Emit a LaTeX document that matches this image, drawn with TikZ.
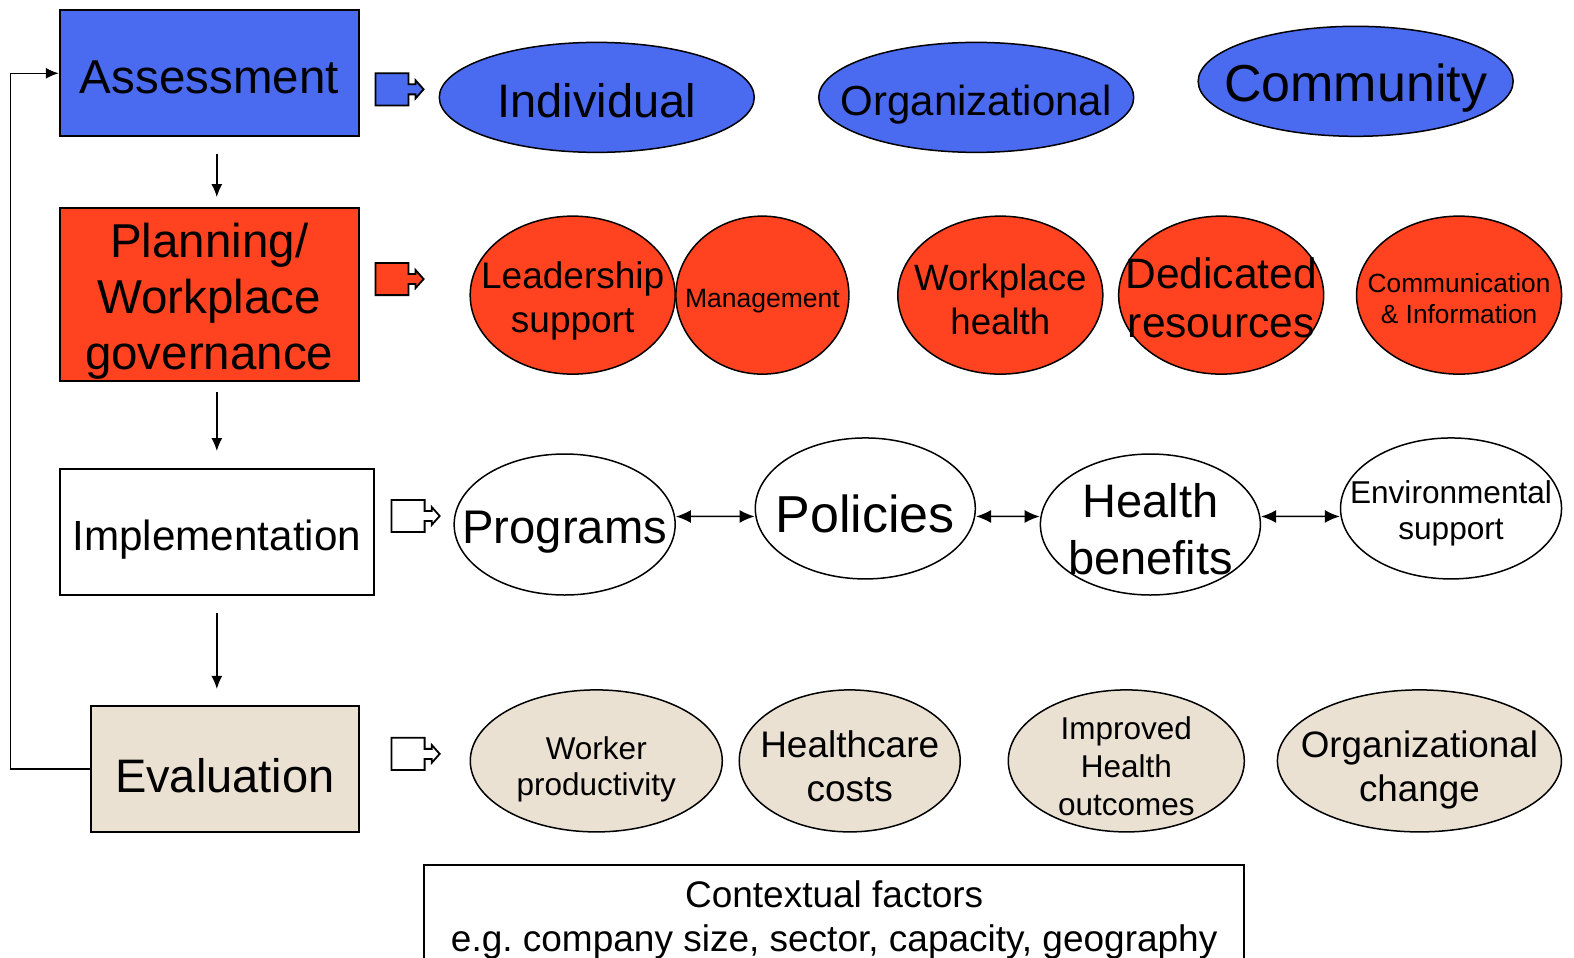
\documentclass[tikz,border=0pt]{standalone}
\usepackage{fontspec}
\setmainfont{Liberation Sans}
\usetikzlibrary{arrows.meta,shapes.geometric}

\definecolor{assessblue}{RGB}{74,106,240}
\definecolor{planred}{RGB}{255,66,32}
\definecolor{evalbeige}{RGB}{234,225,211}

\newcommand{\fs}[2]{\fontsize{#1}{#2}\selectfont}

\tikzset{
  stage/.style={draw, line width=2pt, minimum height=126, inner sep=0pt},
  item/.style={draw, ellipse, line width=1.5pt, inner sep=0pt},
  itemtext/.style={align=center, inner sep=0pt},
  pics/boxarrow/.style={code={
    \draw[line width=1.8pt, fill=#1] (0,-16) -- (33,-16) -- (33,-5) -- (40,-5) -- (40,-9)
      -- (48,0) -- (40,9) -- (40,5) -- (33,5) -- (33,16) -- (0,16) -- cycle;
  }}
}

\begin{document}
\begin{tikzpicture}[x=1.0038pt, y=-1.0038pt,
    down/.style={line width=1.5pt, -{Latex[length=13pt,width=11pt]}},
    both/.style={line width=1.5pt, {Latex[length=15pt,width=13pt]}-{Latex[length=15pt,width=13pt]}}]
  \useasboundingbox (0,0) rectangle (1568,954);

  % stages of the cycle
  \node[stage, fill=assessblue, minimum width=299] (assessment) at (208.5,73) {};
  \node[stage, fill=planred, minimum width=299, minimum height=173] (planning) at (208.5,293.5) {};
  \node[stage, fill=white, minimum width=314] (implementation) at (216,530) {};
  \node[stage, fill=evalbeige, minimum width=268] (evaluation) at (224,766) {};
  \node[itemtext, font={\fs{47.5}{56}}, yshift=-4pt] at (assessment) {Assessment};
  \node[itemtext, font={\fs{47.5}{56}}, yshift=-7pt] at (planning) {Planning/\\Workplace\\governance};
  \node[itemtext, font={\fs{42.2}{50}}, yshift=-8pt] at (implementation) {Implementation};
  \node[itemtext, font={\fs{47}{56}}, yshift=-7pt] at (evaluation) {Evaluation};

  \draw[down, shorten <=17pt, shorten >=10pt] (assessment.south -| implementation) -- (planning.north -| implementation);
  \draw[down, shorten <=10pt, shorten >=17pt] (planning.south -| implementation) -- (implementation.north);
  \draw[down, shorten <=17pt, shorten >=16pt] (implementation.south) -- (evaluation.north -| implementation);
  \draw[down] (evaluation.west) -- ++(-79,0) |- (assessment.west);

  % block arrows
  \pic at (374,89) {boxarrow=assessblue};
  \pic at (374,278) {boxarrow=planred};
  \pic at (390,514) {boxarrow=white};
  \pic at (390,751) {boxarrow=white};

  % assessment levels
  \node[item, fill=assessblue, minimum width=315, minimum height=110] (individual) at (594.5,97) {};
  \node[item, fill=assessblue, minimum width=315, minimum height=110] (organizational) at (972.5,97) {};
  \node[item, fill=assessblue, minimum width=315, minimum height=110] (community) at (1350.5,81) {};
  \node[itemtext, font={\fs{47}{50}}, yshift=-3pt] at (individual) {Individual};
  \node[itemtext, font={\fs{42}{50}}, yshift=-7pt] at (organizational) {Organizational};
  \node[itemtext, font={\fs{52}{56}}, yshift=-7pt] at (community) {Community};

  % governance elements
  \node[item, fill=planred, minimum width=205, minimum height=158] (leadership) at (570.5,294) {};
  \node[item, fill=planred, minimum width=173, minimum height=158] (management) at (759.5,294) {};
  \node[item, fill=planred, minimum width=205, minimum height=158] (workplace) at (996.5,294) {};
  \node[item, fill=planred, minimum width=205, minimum height=158] (resources) at (1216.5,294) {};
  \node[item, fill=planred, minimum width=205, minimum height=158] (communication) at (1453.5,294) {};
  \node[itemtext, font={\fs{37}{44}}, yshift=-6pt] at (leadership) {Leadership\\support};
  \node[itemtext, font={\fs{26.5}{30}}, yshift=-6pt] at (management) {Management};
  \node[itemtext, font={\fs{36.6}{44}}, yshift=-4pt] at (workplace) {Workplace\\health};
  \node[itemtext, font={\fs{42.5}{49}}, yshift=-3pt] at (resources) {Dedicated\\resources};
  \node[itemtext, font={\fs{26.3}{31}}, yshift=-3pt] at (communication) {Communication\\\& Information};

  % implementation elements
  \node[item, fill=white, minimum width=221, minimum height=141] (programs) at (562.5,522.5) {};
  \node[item, fill=white, minimum width=220, minimum height=141] (policies) at (862,506.5) {};
  \node[item, fill=white, minimum width=220, minimum height=141] (benefits) at (1146,522.5) {};
  \node[item, fill=white, minimum width=221, minimum height=141] (environment) at (1445.5,506.5) {};
  \node[itemtext, font={\fs{47.2}{56}}, yshift=-8pt] at (programs) {Programs};
  \node[itemtext, font={\fs{52}{56}}, yshift=-5pt] at (policies) {Policies};
  \node[itemtext, font={\fs{47}{57}}, yshift=-5pt] at (benefits) {Health\\benefits};
  \node[itemtext, font={\fs{31.6}{36}}, yshift=-5pt] at (environment) {Environmental\\support};

  \draw[both] ([yshift=8]programs.east) -- ([yshift=-8]policies.west);
  \draw[both] ([yshift=-8]policies.east) -- ([yshift=8]benefits.west);
  \draw[both] ([yshift=8]benefits.east) -- ([yshift=-8]environment.west);

  % evaluation outcomes
  \node[item, fill=evalbeige, minimum width=252, minimum height=142] (productivity) at (594,758) {};
  \node[item, fill=evalbeige, minimum width=221, minimum height=142] (costs) at (846.5,758) {};
  \node[item, fill=evalbeige, minimum width=236, minimum height=142] (outcomes) at (1122,758) {};
  \node[item, fill=evalbeige, minimum width=284, minimum height=142] (change) at (1414,758) {};
  \node[itemtext, font={\fs{31.5}{36}}, yshift=-8pt] at (productivity) {Worker\\productivity};
  \node[itemtext, font={\fs{37}{44}}, yshift=-5pt] at (costs) {Healthcare\\costs};
  \node[itemtext, font={\fs{31.5}{38}}, yshift=-5pt] at (outcomes) {Improved\\Health\\outcomes};
  \node[itemtext, font={\fs{36.8}{44}}, yshift=-9pt] at (change) {Organizational\\change};

  % context
  \node[draw, line width=1.5pt, anchor=north, minimum width=820, inner ysep=16pt, text depth=40pt, align=center,
    font={\fs{37}{44}\frenchspacing}] (context) at (831,861) {Contextual factors\\e.g. company size, sector, capacity, geography};
\end{tikzpicture}
\end{document}
